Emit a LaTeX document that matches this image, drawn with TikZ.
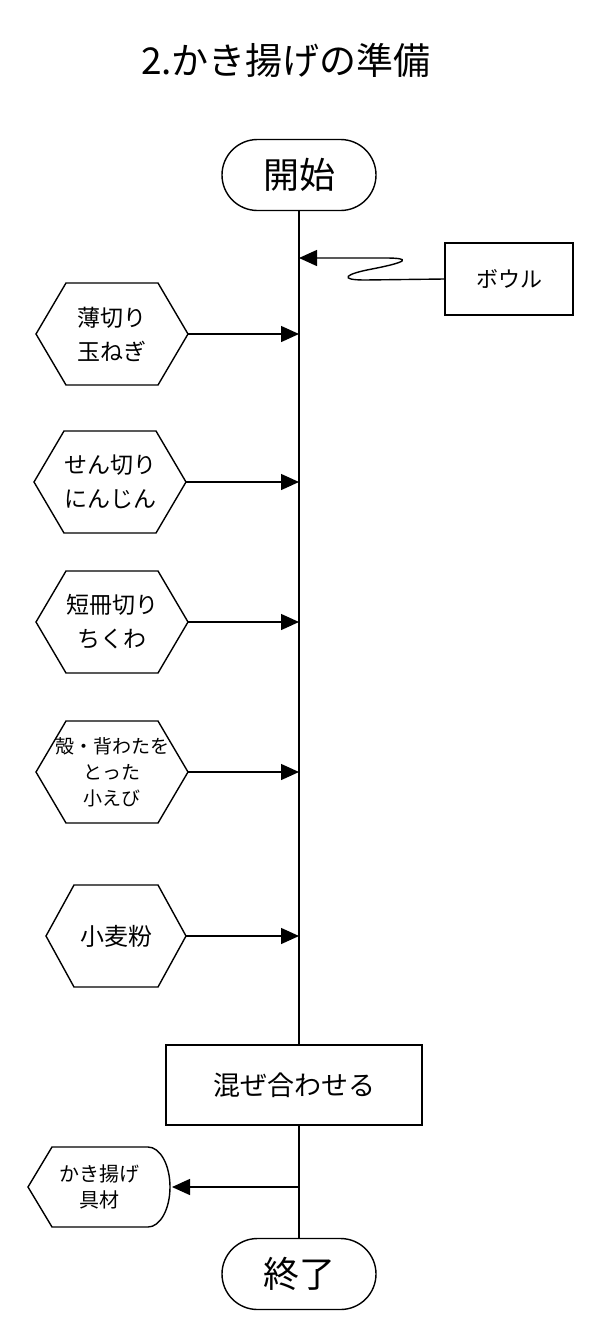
\documentclass[tikz,border=0pt]{standalone}
\usepackage{fontspec}
\setmainfont{Noto Sans CJK JP}
\usetikzlibrary{arrows.meta,shapes.misc}
\newcommand\fsz[2]{\fontsize{#1}{#2}\selectfont}
\newcommand\drawhexa[2]{\draw[ln] ([xshift=#2]#1.north west) -- ([xshift=-#2]#1.north east) -- (#1.east) -- ([xshift=-#2]#1.south east) -- ([xshift=#2]#1.south west) -- (#1.west) -- cycle;}
\tikzset{
  ln/.style={line width=1.4pt,line join=miter},
  arr/.style={ln,-{Triangle[length=18pt,width=16pt]}},
  term/.style={draw,ln,rounded rectangle,minimum width=154pt,minimum height=71pt,inner sep=0pt,font=\fsz{36}{40}},
  procbox/.style={draw,ln,rectangle,inner sep=0pt},
  hexnode/.style={rectangle,inner sep=0pt,outer sep=0pt,minimum width=152pt,minimum height=102pt,align=center,font=\fsz{23}{34}},
}
\begin{document}
\begin{tikzpicture}[x=1pt,y=-1pt]
\useasboundingbox[fill=white] (0,0) rectangle (596,1328);
\node[font=\fsz{37}{44}] (title) at (286,60) {2.かき揚げの準備};
\node[term] (start) at (299,175) {開始};
\node[term] (end) at (299,1274) {終了};
\node[procbox,minimum width=128pt,minimum height=72pt,font=\fsz{22}{26}] (bowl) at (509,279) {ボウル};
\node[procbox,minimum width=256pt,minimum height=80pt,font=\fsz{27}{32}] (mix) at (294,1085) {混ぜ合わせる};

\node[hexnode] (h1) at (112,334) {薄切り\\玉ねぎ};
\node[hexnode] (h2) at (110,482) {せん切り\\にんじん};
\node[hexnode] (h3) at (112,622) {短冊切り\\ちくわ};
\node[hexnode,font=\fsz{19}{26}] (h4) at (112,772) {殻・背わたを\\とった\\小えび};
\node[hexnode,minimum width=140pt,font=\fsz{24}{30}] (h5) at (116,936) {小麦粉};
\drawhexa{h1}{30}
\drawhexa{h2}{30}
\drawhexa{h3}{30}
\drawhexa{h4}{30}
\drawhexa{h5}{28}

\node[rectangle,inner sep=0pt,outer sep=0pt,minimum width=142pt,minimum height=80pt,align=center,font=\fsz{20}{26}] (out) at (99,1187) {かき揚げ\\具材};
\draw[ln] (out.west) -- ([xshift=24]out.north west) -- ([xshift=-22]out.north east)
  arc[start angle=90,end angle=-90,x radius=22pt,y radius=40pt] -- ([xshift=24]out.south west) -- cycle;

% main line
\draw[ln] (start.south) -- (start.south |- mix.north);
\draw[ln] (end.north |- mix.south) -- (end.north);

% inputs
\coordinate (jb) at (299,258);
\draw[arr] (bowl.west) -- (365,280) .. controls (338,280) and (345,274) .. (372,269)
  .. controls (408,262) and (412,258) .. (385,258) -- (jb);
\foreach \h in {h1,h2,h3,h4,h5}{
  \draw[arr] (\h.east) -- (\h.east -| start.south);
}
\draw[arr,shorten >=2pt] (end.north |- out.east) -- (out.east);
\end{tikzpicture}
\end{document}
